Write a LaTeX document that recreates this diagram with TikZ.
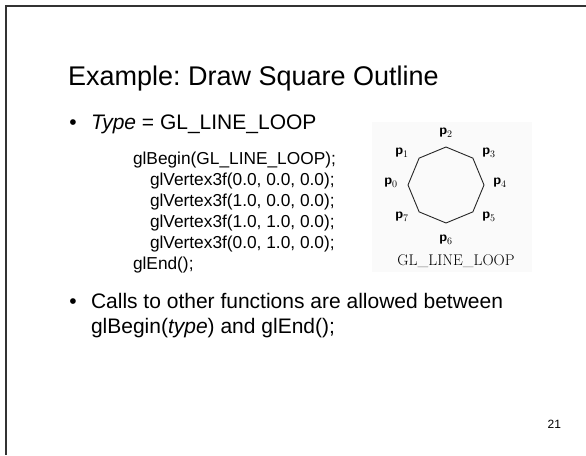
\documentclass[tikz,border=0pt]{standalone}
\usepackage{fontspec}
\usetikzlibrary{calc}
\newfontfamily\arial{Liberation Sans}
\frenchspacing
\begin{document}
\begin{tikzpicture}[x=1pt,y=-1pt,
  txt/.style={anchor=base west,inner sep=0pt,outer sep=0pt,font=\arial},
  title/.style={txt,font=\arial\fontsize{27}{32}\selectfont},
  bul/.style={txt,font=\arial\fontsize{21}{25}\selectfont},
  code/.style={txt,font=\arial\fontsize{17.3}{20}\selectfont},
  plab/.style={inner sep=0pt,font=\fontsize{14}{16}\selectfont},
  edge/.style={line width=0.9pt,black!85}]
\useasboundingbox (0,0) rectangle (586,455);
% slide frame
\coordinate (tl) at (6,6);
\coordinate (tr) at (586,6);
\coordinate (bl) at (6,455);
\draw[line width=1.6pt,black!80] (tr) -- (tl) -- (bl);
% title
\node[title] (ttl) at (68,85) {Example: Draw Square Outline};
% bullet 1
\node[bul,anchor=base] (b1) at (73,129) {•};
\node[bul] (t1) at (91,129) {\textit{Type} = GL\_LINE\_LOOP};
% code
\node[code] (c0) at (133,164) {glBegin(GL\_LINE\_LOOP);};
\node[code] (c1) at (150,185) {glVertex3f(0.0, 0.0, 0.0);};
\node[code] (c2) at (150,206) {glVertex3f(1.0, 0.0, 0.0);};
\node[code] (c3) at (150,227) {glVertex3f(1.0, 1.0, 0.0);};
\node[code] (c4) at (150,248) {glVertex3f(0.0, 1.0, 0.0);};
\node[code] (c5) at (133,269) {glEnd();};
% figure
\fill[black!2] (372,122) rectangle (532,272);
\foreach \i/\a in {0/180,1/135,2/90,3/45,4/0,5/-45,6/-90,7/-135}{
  \coordinate (v\i) at ($(446,185)+(\a:38)$);
}
\draw[edge] (v0) -- (v1) -- (v2) -- (v3) -- (v4) -- (v5) -- (v6) -- (v7) -- cycle;
\node[plab] (p2) at (446,133) {\textsf{\textbf{p}}$_2$};
\node[plab] (p1) at (402,153) {\textsf{\textbf{p}}$_1$};
\node[plab] (p3) at (489,153) {\textsf{\textbf{p}}$_3$};
\node[plab] (p0) at (391,183) {\textsf{\textbf{p}}$_0$};
\node[plab] (p4) at (500,183) {\textsf{\textbf{p}}$_4$};
\node[plab] (p7) at (402,217) {\textsf{\textbf{p}}$_7$};
\node[plab] (p5) at (489,217) {\textsf{\textbf{p}}$_5$};
\node[plab] (p6) at (446,240) {\textsf{\textbf{p}}$_6$};
\node[inner sep=0pt,font=\fontsize{15.5}{18}\selectfont] (cap) at (456,261) {GL\_LINE\_LOOP};
% bullet 2
\node[bul,anchor=base] (b2) at (73,308) {•};
\node[bul] (t2) at (91,308) {Calls to other functions are allowed between};
\node[bul] (t3) at (91,333) {glBegin(\textit{type}) and glEnd();};
% page number
\node[txt,font=\arial\fontsize{12}{14}\selectfont,anchor=base east] (pg) at (561,428) {21};
\end{tikzpicture}
\end{document}
